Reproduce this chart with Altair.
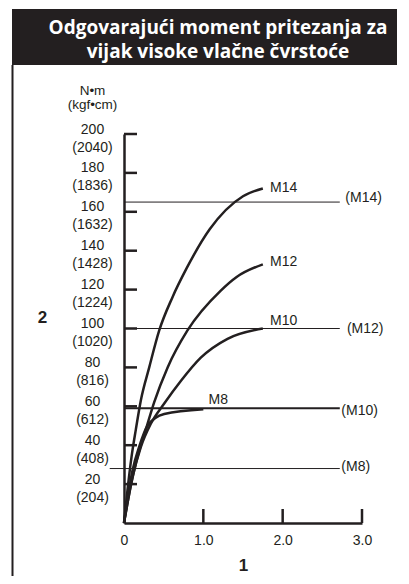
import altair as alt
import pandas as pd

# ---------------- data ----------------
curve_names = ["M14", "M12", "M10", "M8"]
m14_x = [0, 0.044, 0.095, 0.149, 0.212, 0.318, 0.444, 0.61, 0.79, 1.08, 1.5, 1.75]
m14_y = [0, 17, 34, 48, 63, 80, 99, 116, 131, 151, 168, 172]
m12_x = [0, 0.08, 0.17, 0.275, 0.38, 0.55, 0.8, 1.22, 1.42, 1.75]
m12_y = [0, 18, 34, 48, 62, 80, 99, 119.5, 126.5, 133]
m10_x = [0, 0.107, 0.212, 0.338, 0.507, 0.716, 0.968, 1.305, 1.75]
m10_y = [0, 23.5, 39, 51, 61.4, 73, 85, 94.7, 100]
m8_x = [0, 0.107, 0.19, 0.296, 0.507, 1.0]
m8_y = [0, 27, 39, 50, 56, 58.5]
curve_label_x = [1.84, 1.84, 1.84, 1.066]
curve_label_y = [172, 134, 104, 63]

ref_names = ["(M14)", "(M12)", "(M10)", "(M8)"]
ref_values = [165, 100, 59, 28]
ref_start = [0, 0, 0, -0.18]
ref_end = [2.72, 2.72, 2.72, 2.72]
ref_label_x = [2.79, 2.81, 2.74, 2.74]
ref_label_y = [167, 99.6, 57.4, 28.7]

y_label_values = [20, 40, 60, 80, 100, 120, 140, 160, 180, 200]
y_tick_values = [20, 40, 60, 80, 100, 120, 140, 160, 180, 200]
x_label_values = [0, 1, 2, 3]
x_tick_values = [1, 2, 3]

title_lines = ["Odgovarajući moment pritezanja za", "vijak visoke vlačne čvrstoće"]
y_title_lines = ["N•m", "(kgf•cm)"]
x_title = "1"
y_side_label = "2"

# ---------------- style ----------------
INK = "#231f20"
FONT = "Liberation Sans"
W, H = 238, 389
ref_widths = [1, 1, 2.2, 1]

# ---------------- tables ----------------
rows = []
for name, xs, ys in zip(curve_names, [m14_x, m12_x, m10_x, m8_x], [m14_y, m12_y, m10_y, m8_y]):
    for i, (a, b) in enumerate(zip(xs, ys)):
        rows.append({"series": name, "x": a, "y": b, "order": i})
curves_df = pd.DataFrame(rows)
curve_lab_df = pd.DataFrame({"label": curve_names, "x": curve_label_x, "y": curve_label_y})
ref_df = pd.DataFrame({"label": ref_names, "y": ref_values, "x": ref_start,
                       "x2": ref_end, "lx": ref_label_x, "ly": ref_label_y, "w": ref_widths})
ytick_df = pd.DataFrame({"y": y_tick_values})
xtick_df = pd.DataFrame({"x": x_tick_values})
one = pd.DataFrame({"a": [0]})

xscale = alt.Scale(domain=[0, 3], nice=False, zero=True)
yscale = alt.Scale(domain=[0, 200], nice=False, zero=True)

xaxis = alt.Axis(
    values=x_label_values,
    labelExpr="datum.value == 0 ? '0' : format(datum.value, '.1f')",
    ticks=False, grid=False, domainWidth=2.5, domainColor=INK,
    labelFont=FONT, labelFontSize=14, labelColor=INK, labelPadding=10,
    labelBaseline="top", labelFlush=False, labelOverlap=False,
    title=x_title, titleFont=FONT, titleFontSize=17, titleFontWeight="bold",
    titleColor=INK, titleBaseline="alphabetic", titleY=47,
)
yaxis = alt.Axis(
    values=y_label_values,
    labelExpr="[format(datum.value, 'd'), '(' + format(datum.value * 10.2, 'd') + ')']",
    ticks=False, grid=False, domainWidth=2.5, domainColor=INK,
    labelFont=FONT, labelFontSize=14, labelColor=INK, labelAlign="center",
    labelPadding=32, labelLineHeight=18, labelBaseline="middle", labelOffset=-5,
    labelFlush=False, labelOverlap=False,
    title=y_title_lines, titleAngle=0, titleX=-32, titleY=-40, titleAlign="center",
    titleBaseline="alphabetic", titleFont=FONT, titleFontSize=13.5,
    titleFontWeight="normal", titleLineHeight=14, titleColor=INK,
)

curves = alt.Chart(curves_df).mark_line(interpolate="monotone", strokeWidth=2.5, color=INK).encode(
    x=alt.X("x:Q", scale=xscale, axis=xaxis),
    y=alt.Y("y:Q", scale=yscale, axis=yaxis),
    detail="series:N",
    order="order:Q",
)

refs = alt.Chart(ref_df).mark_rule(color=INK).encode(
    x="x:Q", x2="x2:Q", y="y:Q",
    strokeWidth=alt.StrokeWidth("w:Q", scale=None),
)
ref_labels = alt.Chart(ref_df).mark_text(
    align="left", baseline="middle", font=FONT, fontSize=14, color=INK
).encode(x=alt.X("lx:Q"), y=alt.Y("ly:Q"), text="label:N")

curve_labels = alt.Chart(curve_lab_df).mark_text(
    align="left", baseline="middle", font=FONT, fontSize=14, color=INK
).encode(x="x:Q", y="y:Q", text="label:N")

yticks = alt.Chart(ytick_df).mark_rule(color=INK, strokeWidth=2.5).encode(
    y="y:Q", x=alt.value(0), x2=alt.value(13)
)
xticks = alt.Chart(xtick_df).mark_rule(color=INK, strokeWidth=2.5).encode(
    x="x:Q", y=alt.value(H - 14), y2=alt.value(H)
)

title_box = alt.Chart(one).mark_rect(color=INK).encode(
    x=alt.value(-112), x2=alt.value(W + 60), y=alt.value(-125), y2=alt.value(-69)
)
title_line1 = alt.Chart(one).mark_text(
    align="center", baseline="alphabetic", font="Open Sans", fontSize=19,
    fontWeight="bold", color="white"
).encode(x=alt.value(94), y=alt.value(-100), text=alt.value(title_lines[0]))
title_line2 = alt.Chart(one).mark_text(
    align="center", baseline="alphabetic", font="Open Sans", fontSize=19,
    fontWeight="bold", color="white"
).encode(x=alt.value(94), y=alt.value(-76), text=alt.value(title_lines[1]))
frame_line = alt.Chart(one).mark_rule(color=INK, strokeWidth=2).encode(
    x=alt.value(-111.5), y=alt.value(-69), y2=alt.value(H + 70)
)
side_label = alt.Chart(one).mark_text(
    align="center", baseline="alphabetic", font=FONT, fontSize=17,
    fontWeight="bold", color=INK
).encode(x=alt.value(-81.5), y=alt.value(189), text=alt.value(y_side_label))

chart = alt.layer(
    title_box, title_line1, title_line2, frame_line, refs, curves, yticks, xticks,
    ref_labels, curve_labels, side_label
).properties(
    width=W, height=H,
    autosize=alt.AutoSizeParams(type="none"),
    padding={"left": 116, "top": 126, "right": 35, "bottom": 53},
    background="white",
).configure_view(stroke=None)

chart.save("out.html", embed_options={"renderer": "svg", "actions": False})
